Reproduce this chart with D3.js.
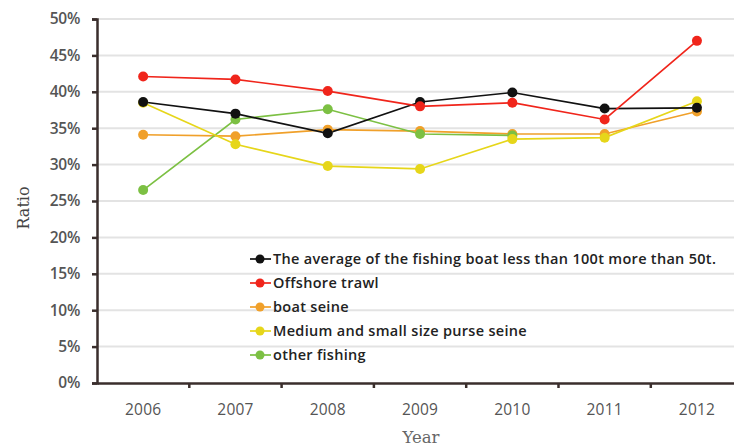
<!DOCTYPE html>
<html><head><meta charset="utf-8">
<script src="https://cdn.jsdelivr.net/npm/d3@7/dist/d3.min.js"></script>
<style>body{margin:0;background:#fff}svg{display:block}</style>
</head><body><svg id="c" width="734" height="447"></svg>
<script>
const years = ["2006","2007","2008","2009","2010","2011","2012"];
const yTicks = [0,0.05,0.10,0.15,0.20,0.25,0.30,0.35,0.40,0.45,0.50];
const seriesNames = ["The average of the fishing boat less than 100t more than 50t.","Offshore trawl"," boat seine","Medium and small size purse seine","other fishing"];
const seriesColors = ["#111111","#f0251b","#f0a02a","#e6d61a","#7cc043"];
const avgValues = [0.386,0.370,0.343,0.386,0.399,0.377,0.378];
const trawlValues = [0.421,0.417,0.401,0.380,0.385,0.362,0.470];
const seineValues = [0.341,0.339,0.348,0.346,0.342,0.342,0.373];
const purseValues = [0.385,0.328,0.298,0.294,0.335,0.337,0.387];
const otherValues = [0.265,0.362,0.376,0.342,0.340,null,null];
const allValues = [avgValues,trawlValues,seineValues,purseValues,otherValues];

const svg = d3.select("#c");
const mLeft = 97, mTop = 19, mBottom = 383;
const x = d3.scaleBand().domain(years).range([mLeft, mLeft + 92.3*7]).padding(0);
const y = d3.scaleLinear().domain([0,0.5]).range([mBottom, mTop]);

// gridlines
svg.append("g").selectAll("line").data(yTicks.slice(1)).join("line")
  .attr("x1", mLeft).attr("x2", 734).attr("y1", d=>y(d)).attr("y2", d=>y(d))
  .attr("stroke", "#e3e3e3").attr("stroke-width", 2);

// y axis
const ya = svg.append("g").attr("transform", `translate(${mLeft},0)`)
  .call(d3.axisLeft(y).tickValues(yTicks).tickFormat(d3.format(".0%")).tickSize(5).tickPadding(12));
ya.select(".domain").attr("stroke", "#3a2e2c").attr("stroke-width", 2.5);
ya.selectAll(".tick line").attr("stroke", "#3a2e2c").attr("stroke-width", 2.5);
ya.selectAll("text").attr("font-family", "Open Sans, sans-serif").attr("font-size", 15.5)
  .attr("font-weight", 600).attr("fill", "#555").attr("letter-spacing", -0.3);

// x axis
const xa = svg.append("g").attr("transform", `translate(0,${mBottom})`)
  .call(d3.axisBottom(x).tickSize(0).tickPadding(21));
xa.select(".domain").attr("stroke", "#3a2e2c").attr("stroke-width", 2.5);
xa.selectAll("text").attr("font-family", "Open Sans, sans-serif").attr("font-size", 15.5)
  .attr("fill", "#555").attr("letter-spacing", 0.2);
xa.append("g").selectAll("line").data(years.slice(1)).join("line")
  .attr("x1", d=>x(d)).attr("x2", d=>x(d)).attr("y1", 0).attr("y2", 5)
  .attr("stroke", "#3a2e2c").attr("stroke-width", 2.5);

// axis titles
svg.append("text").attr("x", 421).attr("y", 443).attr("text-anchor", "middle")
  .attr("font-family", "DejaVu Serif, serif").attr("font-size", 16.5).attr("fill", "#666").text("Year");
svg.append("text").attr("transform", "translate(29,208) rotate(-90)").attr("text-anchor", "middle")
  .attr("font-family", "DejaVu Serif, serif").attr("font-size", 16).attr("fill", "#444").text("Ratio");

// series
const line = d3.line().defined(d=>d!=null).x((d,i)=>x(years[i])+x.bandwidth()/2).y(d=>y(d));
const draw = [2,4,3,0,1];
draw.forEach(si => {
  const vals = allValues[si];
  svg.append("path").datum(vals).attr("d", line).attr("fill", "none")
    .attr("stroke", seriesColors[si]).attr("stroke-width", 1.7);
});
draw.forEach(si => {
  const vals = allValues[si];
  svg.append("g").selectAll("circle").data(vals.map((v,i)=>({v,i})).filter(d=>d.v!=null)).join("circle")
    .attr("cx", d=>x(years[d.i])+x.bandwidth()/2).attr("cy", d=>y(d.v)).attr("r", 5)
    .attr("fill", seriesColors[si]);
});

// legend
const lg = svg.append("g");
seriesNames.forEach((n, i) => {
  const yy = 259 + i*24;
  lg.append("line").attr("x1", 250).attr("x2", 271).attr("y1", yy).attr("y2", yy)
    .attr("stroke", seriesColors[i]).attr("stroke-width", 1.7);
  lg.append("circle").attr("cx", 260).attr("cy", yy).attr("r", 4.5).attr("fill", seriesColors[i]);
  lg.append("text").attr("x", 273).attr("y", yy + 5).attr("font-family", "Open Sans, sans-serif")
    .attr("font-size", 14.5).attr("font-weight", 600).attr("fill", "#222").attr("letter-spacing", 0.3).text(n);
});
</script></body></html>
